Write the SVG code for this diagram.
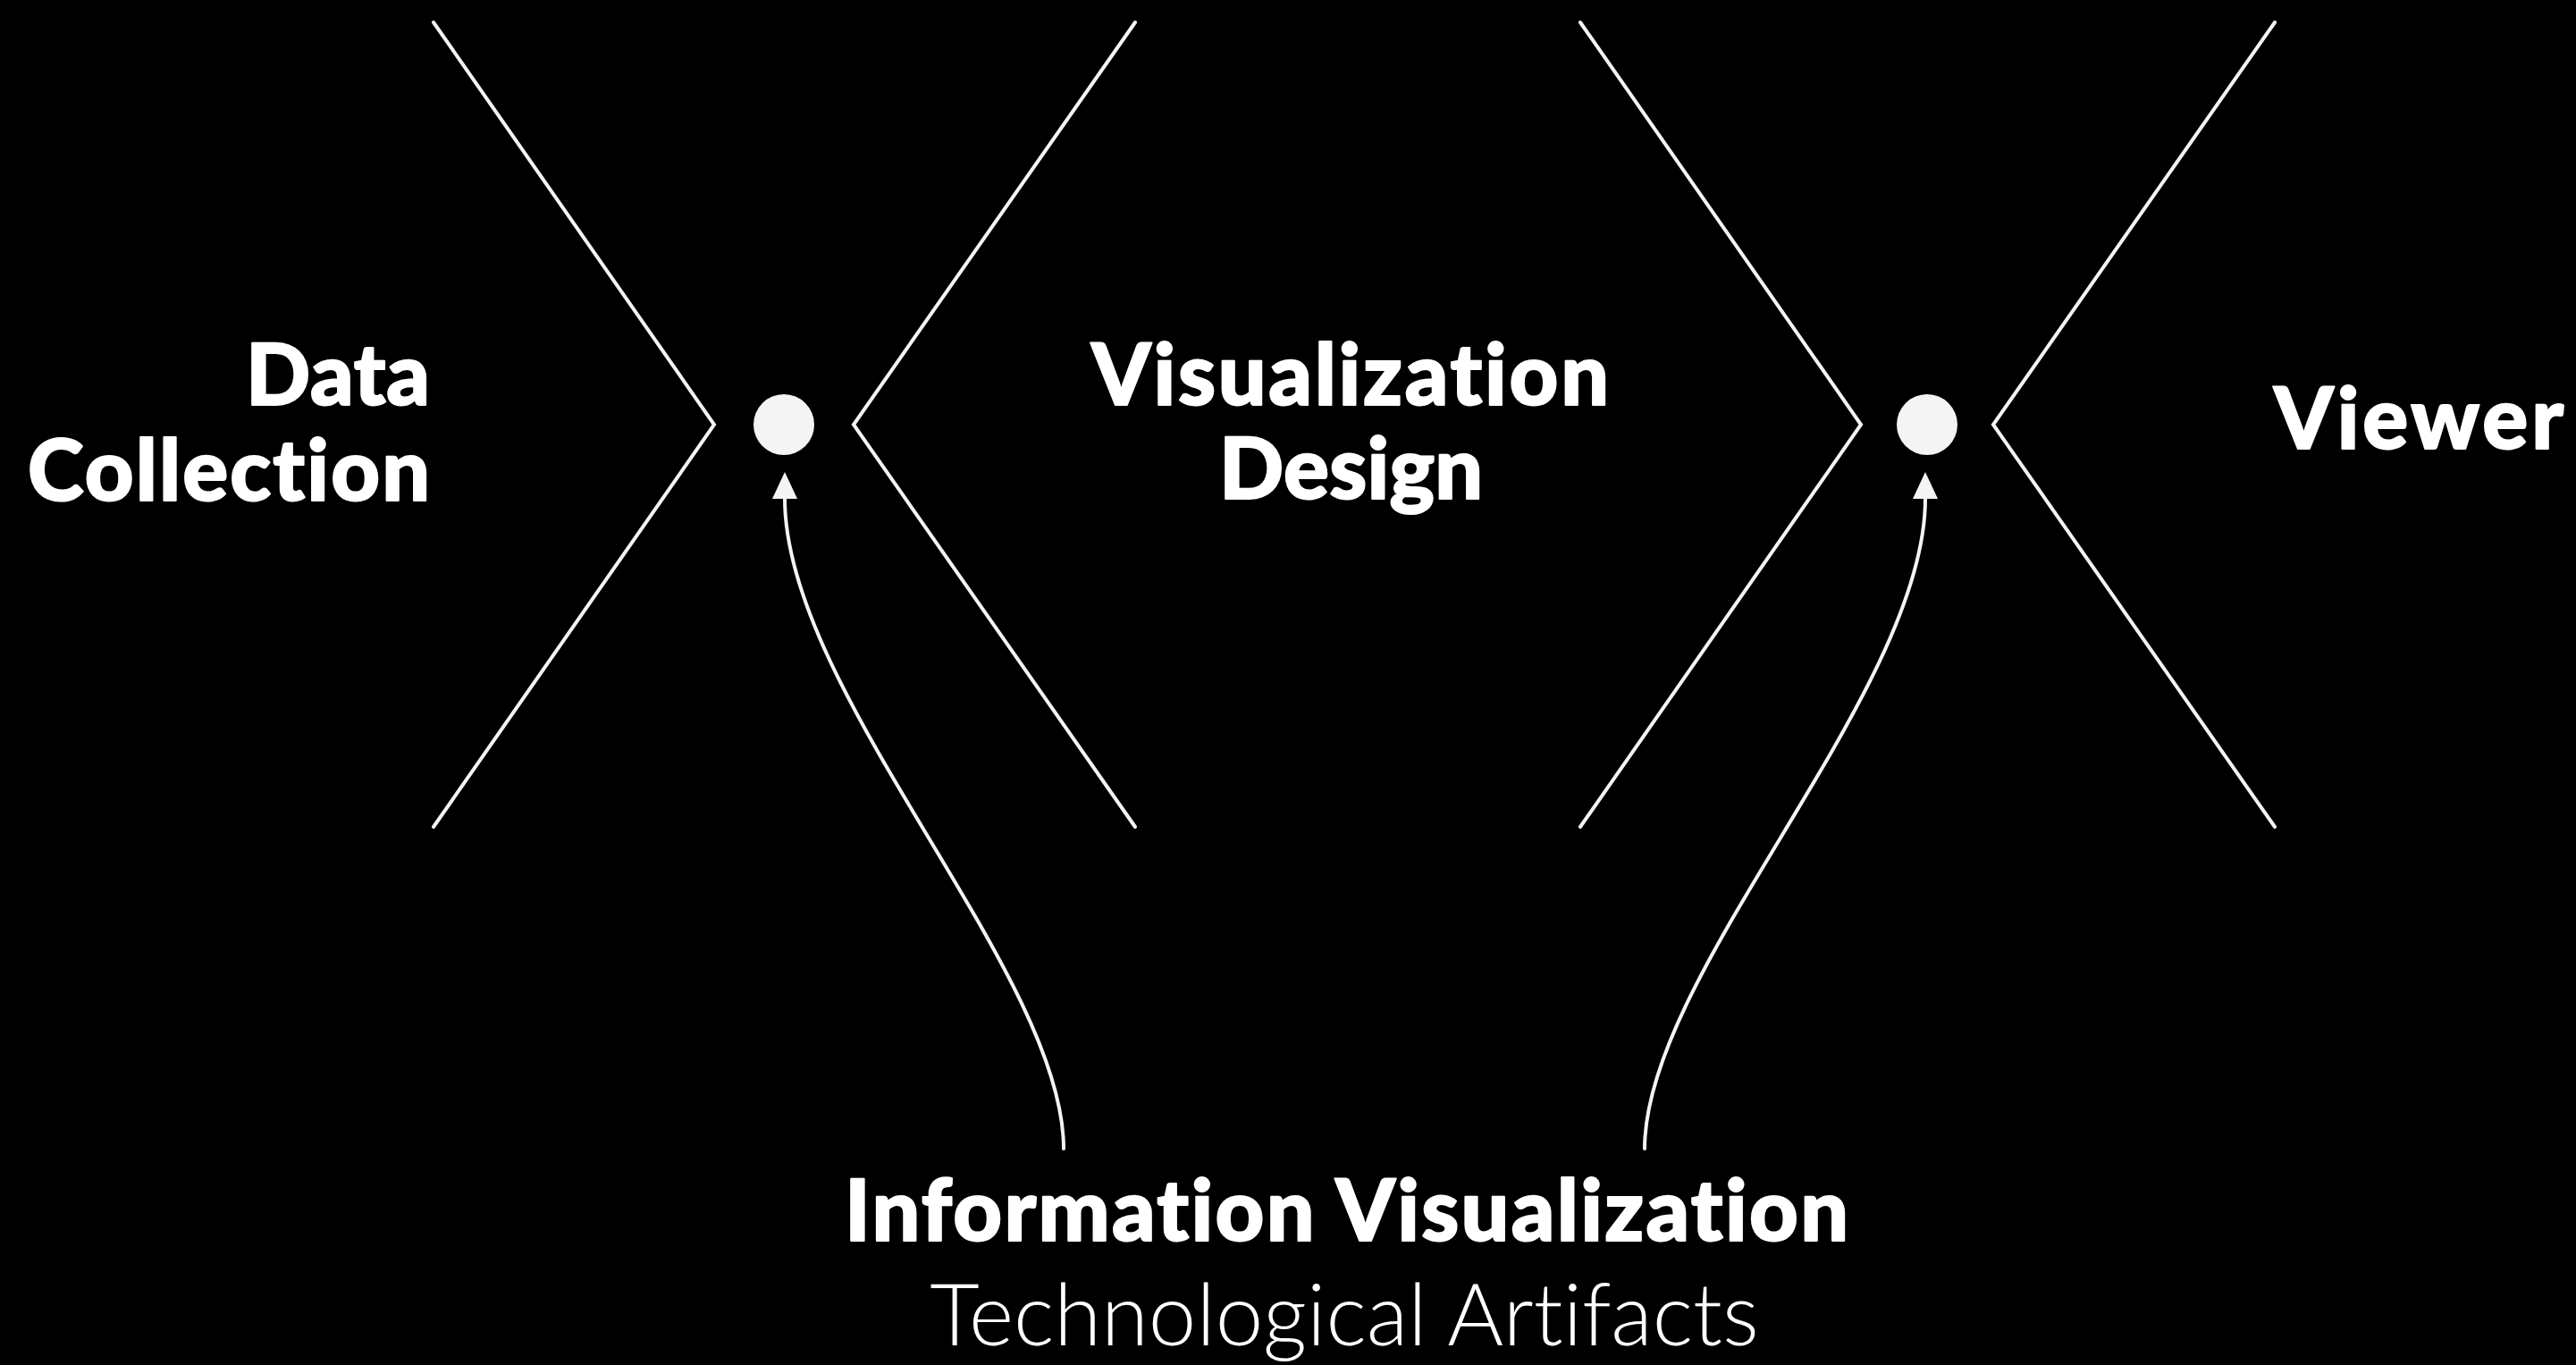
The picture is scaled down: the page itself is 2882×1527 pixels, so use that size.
<svg xmlns="http://www.w3.org/2000/svg" width="2882" height="1527" viewBox="0 0 2882 1527">
<style>
.bg{fill:#000}
.ln{fill:none;stroke:#f4f4f4;stroke-width:4;stroke-linecap:round;stroke-linejoin:miter}
.dot{fill:#f4f4f4}
text{font-variant-ligatures:none;font-feature-settings:"liga" 0,"clig" 0}
.lbl{font-family:Lato,"Open Sans","Liberation Sans",sans-serif;font-weight:900;font-size:95px;fill:#fff;stroke:#fff;stroke-width:2;stroke-linejoin:round}
.sub{font-family:Lato,"Open Sans","Liberation Sans",sans-serif;font-weight:300;font-size:96px;fill:#fff}
</style>
<defs>
<marker id="ah" markerUnits="userSpaceOnUse" markerWidth="32" markerHeight="30" refX="0" refY="14" orient="auto">
<path d="M0,0 L30,14 L0,28 z" fill="#f4f4f4"/>
</marker>
</defs>
<rect class="bg" x="0" y="0" width="2882" height="1527"/>
<g id="data-collection">
<polyline class="ln" points="485,25 799,475 485,925"/>
<text class="lbl" x="275" y="453" textLength="206" lengthAdjust="spacing">Data</text>
<text class="lbl" x="31" y="560" textLength="450" lengthAdjust="spacing">Collection</text>
</g>
<g id="junction-1">
<circle class="dot" cx="877" cy="475" r="34"/>
</g>
<g id="visualization-design">
<polyline class="ln" points="1270,25 955,475 1270,925"/>
<polyline class="ln" points="1768,25 2082,475 1768,925"/>
<text class="lbl" x="1221" y="453" textLength="579" lengthAdjust="spacing">Visualization</text>
<text class="lbl" x="1364" y="558" textLength="295" lengthAdjust="spacing">Design</text>
</g>
<g id="junction-2">
<circle class="dot" cx="2156" cy="475" r="34"/>
</g>
<g id="viewer">
<polyline class="ln" points="2545,25 2230,475 2545,925"/>
<text class="lbl" x="2544" y="502" textLength="324" lengthAdjust="spacing">Viewer</text>
</g>
<g id="information-visualization">
<text class="lbl" x="945" y="1388" textLength="1123" lengthAdjust="spacing">Information Visualization</text>
<text class="sub" x="1504" y="1505" text-anchor="middle">Technological Artifacts</text>
</g>
<g id="connectors">
<path class="ln" d="M1190,1285 C1190,1088 878,775 878,558" marker-end="url(#ah)"/>
<path class="ln" d="M1840,1285 C1840,1088 2154,775 2154,558" marker-end="url(#ah)"/>
</g>
</svg>
